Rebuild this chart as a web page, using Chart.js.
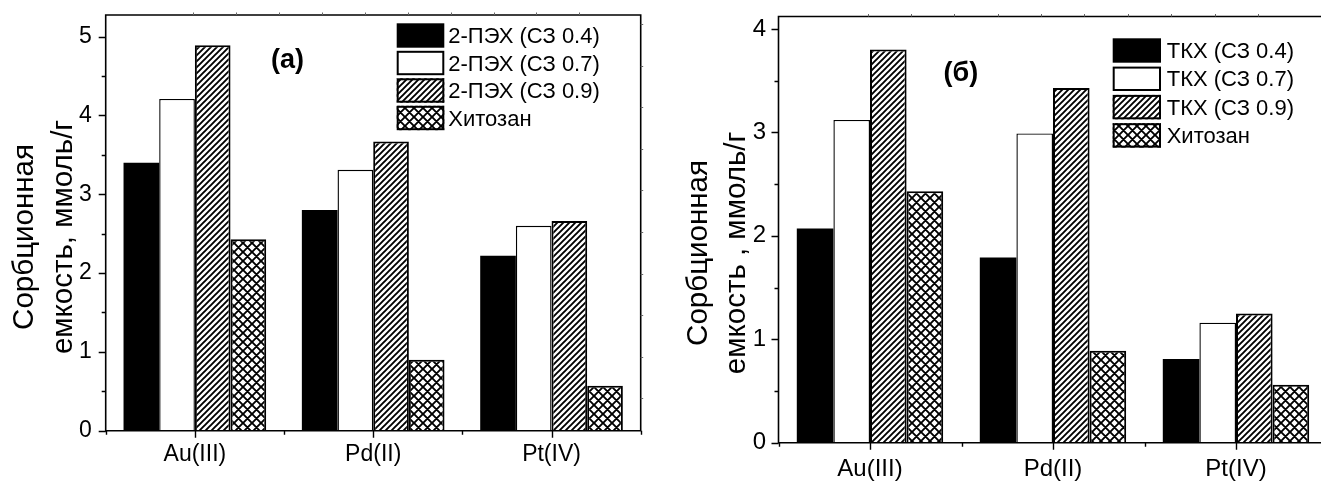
<!DOCTYPE html>
<html><head><meta charset="utf-8">
<script src="https://cdn.jsdelivr.net/npm/chart.js@4.4.1/dist/chart.umd.min.js"></script>
<style>
html,body{margin:0;padding:0;background:#fff;overflow:hidden;width:1321px;height:482px;}
#wrapA{position:absolute;left:0;top:0;width:660px;height:482px;}
#wrapB{position:absolute;left:660px;top:0;width:700px;height:482px;}
canvas{display:block;}
</style></head><body>
<div id="wrapA"><canvas id="cA" width="660" height="482"></canvas></div>
<div id="wrapB"><canvas id="cB" width="700" height="482"></canvas></div>
<script>
// ---- data ----
const categories = ['Au(III)', 'Pd(II)', 'Pt(IV)'];
const seriesLabelsA = ['2-ПЭХ (СЗ 0.4)', '2-ПЭХ (СЗ 0.7)', '2-ПЭХ (СЗ 0.9)', 'Хитозан'];
const seriesLabelsB = ['ТКХ (СЗ 0.4)', 'ТКХ (СЗ 0.7)', 'ТКХ (СЗ 0.9)', 'Хитозан'];
const a_ds04 = [3.40, 2.80, 2.22];
const a_ds07 = [4.21, 3.31, 2.60];
const a_ds09 = [4.89, 3.67, 2.66];
const a_chitosan = [2.43, 0.90, 0.57];
const b_ds04 = [2.07, 1.79, 0.81];
const b_ds07 = [3.12, 2.99, 1.16];
const b_ds09 = [3.80, 3.43, 1.25];
const b_chitosan = [2.43, 0.89, 0.56];
const yTicksA = [0, 1, 2, 3, 4, 5];
const yTicksB = [0, 1, 2, 3, 4];
const yMaxA = 5.275;
const yMaxB = 4.12;
const yTitleA = ['Сорбционная', 'емкость, ммоль/г'];
const yTitleB = ['Сорбционная', 'емкость , ммоль/г'];
const panelA = '(а)';
const panelB = '(б)';

const FONT = '"Liberation Sans", Arial, "DejaVu Sans", sans-serif';

function makeHatch() {
  const s = 6, c = document.createElement('canvas');
  c.width = s; c.height = s;
  const g = c.getContext('2d');
  g.fillStyle = '#fff'; g.fillRect(0, 0, s, s);
  g.strokeStyle = '#000'; g.lineWidth = 1.9; g.lineCap = 'square';
  g.beginPath();
  g.moveTo(-1, s + 1); g.lineTo(s + 1, -1);
  g.moveTo(-1, 1); g.lineTo(1, -1);
  g.moveTo(s - 1, s + 1); g.lineTo(s + 1, s - 1);
  g.stroke();
  return g.createPattern(c, 'repeat');
}
function makeCross() {
  const s = 9, c = document.createElement('canvas');
  c.width = s; c.height = s;
  const g = c.getContext('2d');
  g.fillStyle = '#fff'; g.fillRect(0, 0, s, s);
  g.strokeStyle = '#000'; g.lineWidth = 1.9;
  g.beginPath();
  g.moveTo(-1, s + 1); g.lineTo(s + 1, -1);
  g.moveTo(-1, 1); g.lineTo(1, -1);
  g.moveTo(s - 1, s + 1); g.lineTo(s + 1, s - 1);
  g.moveTo(-1, -1); g.lineTo(s + 1, s + 1);
  g.moveTo(s - 1, -1); g.lineTo(s + 1, 1);
  g.moveTo(-1, s - 1); g.lineTo(1, s + 1);
  g.stroke();
  return g.createPattern(c, 'repeat');
}
const hatch = makeHatch();
const cross = makeCross();

function datasets(labels, d0, d1, d2, d3) {
  const common = { xAxisID: 'x', yAxisID: 'y', borderColor: '#000', categoryPercentage: 0.8, barPercentage: 1.0 };
  return [
    Object.assign({ label: labels[0], data: d0, backgroundColor: '#000', borderWidth: 0, legendBorder: 0 }, common),
    Object.assign({ label: labels[1], data: d1, backgroundColor: '#fff', borderWidth: 1.4, legendBorder: 2 }, common),
    Object.assign({ label: labels[2], data: d2, backgroundColor: hatch, borderWidth: 2, legendBorder: 2 }, common),
    Object.assign({ label: labels[3], data: d3, backgroundColor: cross, borderWidth: 2, legendBorder: 2 }, common)
  ];
}

const decorPlugin = {
  id: 'decor',
  afterDraw(chart, args, o) {
    const ctx = chart.ctx, ca = chart.chartArea;
    const x = chart.scales.x, y = chart.scales.y;
    const xt = chart.scales.xTop, yr = chart.scales.yRight;
    ctx.save();
    ctx.strokeStyle = '#000';
    // frame
    ctx.lineWidth = 1.6;
    ctx.beginPath();
    ctx.moveTo(ca.left, ca.top); ctx.lineTo(ca.right, ca.top);
    ctx.lineTo(ca.right, ca.bottom); ctx.lineTo(ca.left, ca.bottom); ctx.closePath();
    ctx.stroke();
    // left axis ticks
    ctx.lineWidth = 1.4;
    ctx.beginPath();
    for (let v = 0; v <= y.max + 1e-9; v += 0.5) {
      const py = Math.round(y.getPixelForValue(v)) + 0.5;
      const len = Math.abs(v - Math.round(v)) < 1e-9 ? 7 : 4;
      ctx.moveTo(ca.left, py); ctx.lineTo(ca.left - len, py);
    }
    // bottom axis ticks
    const n = chart.data.labels.length;
    for (let i = 0; i < n; i++) {
      const px = Math.round(x.getPixelForValue(i)) + 0.5;
      ctx.moveTo(px, ca.bottom); ctx.lineTo(px, ca.bottom + 7);
    }
    for (let i = -0.5; i <= n - 0.5 + 1e-9; i += 1) {
      const px = Math.round(x.getPixelForValue(i)) + 0.5;
      ctx.moveTo(px, ca.bottom); ctx.lineTo(px, ca.bottom + 4);
    }
    ctx.stroke();
    // tiny mirror ticks (top & right)
    ctx.strokeStyle = '#666'; ctx.lineWidth = 1;
    ctx.beginPath();
    if (xt) {
      for (let k = 1; k < xt.max; k++) {
        const px = Math.round(xt.getPixelForValue(k)) + 0.5;
        ctx.moveTo(px, ca.top); ctx.lineTo(px, ca.top - 2.5);
      }
    }
    if (yr && o.rightTicks) {
      for (let k = Math.ceil(yr.min); k < yr.max; k++) {
        const py = Math.round(yr.getPixelForValue(k)) + 0.5;
        ctx.moveTo(ca.right, py); ctx.lineTo(ca.right + 2.5, py);
      }
    }
    ctx.stroke();

    // y title (two lines, rotated)
    ctx.fillStyle = '#000';
    ctx.font = o.titleSize + 'px ' + FONT;
    ctx.textAlign = 'center'; ctx.textBaseline = 'alphabetic';
    o.title.forEach((line, i) => {
      ctx.save();
      ctx.translate(o.titleX[i], o.titleCY);
      ctx.rotate(-Math.PI / 2);
      ctx.fillText(line, 0, 0);
      ctx.restore();
    });

    // panel label
    ctx.font = 'bold ' + o.panelSize + 'px ' + FONT;
    ctx.fillText(o.panel, x.getPixelForValue(o.panelX), y.getPixelForValue(o.panelY));

    // legend
    const L = o.legend;
    ctx.font = L.size + 'px ' + FONT;
    ctx.textAlign = 'left'; ctx.textBaseline = 'middle';
    chart.data.datasets.forEach((ds, i) => {
      const lx = ca.left + L.left, ly = ca.top + L.top + i * L.pitch;
      ctx.fillStyle = ds.backgroundColor;
      ctx.fillRect(lx, ly, L.w, L.h);
      if (ds.legendBorder) {
        ctx.strokeStyle = '#000'; ctx.lineWidth = ds.legendBorder;
        ctx.strokeRect(lx + 1, ly + 1, L.w - 2, L.h - 2);
      }
      ctx.fillStyle = '#000';
      ctx.fillText(ds.label, lx + L.w + L.gap, ly + L.h / 2 + 1.5);
    });
    ctx.restore();
  }
};

function zeroMargins(s) {
  s.paddingTop = 0; s.paddingBottom = 0; s.paddingLeft = 0; s.paddingRight = 0;
  s._margins = { left: 0, right: 0, top: 0, bottom: 0 };
}

function makeChart(id, labels, dsets, yTicks, yMax, cfg) {
  return new Chart(document.getElementById(id), {
    type: 'bar',
    data: { labels: categories, datasets: dsets },
    plugins: [decorPlugin],
    options: {
      responsive: false,
      animation: false,
      layout: { padding: cfg.padding, autoPadding: false },
      plugins: { legend: { display: false }, tooltip: { enabled: false }, decor: cfg.decor },
      scales: {
        x: {
          type: 'category', offset: true,
          grid: { display: false, drawTicks: false }, border: { display: false },
          ticks: { color: '#000', padding: cfg.xPad, font: { family: FONT, size: cfg.xSize }, maxRotation: 0 },
          afterFit: s => { s.height = cfg.xHeight; zeroMargins(s); }
        },
        y: {
          type: 'linear', min: 0, max: yMax,
          grid: { display: false, drawTicks: false }, border: { display: false },
          ticks: { color: '#000', padding: cfg.yPad, font: { family: FONT, size: cfg.ySize } },
          afterBuildTicks: s => { s.ticks = yTicks.map(v => ({ value: v })); },
          afterFit: s => { s.width = cfg.yWidth; zeroMargins(s); }
        },
        xTop: { type: 'linear', axis: 'x', position: 'top', display: false, min: 0, max: cfg.topMax },
        yRight: { type: 'linear', axis: 'y', position: 'right', display: false, min: cfg.right.min, max: cfg.right.max }
      }
    }
  });
}

makeChart('cA', seriesLabelsA, datasets(seriesLabelsA, a_ds04, a_ds07, a_ds09, a_chitosan), yTicksA, yMaxA, {
  padding: { left: 0, top: 15, right: 19.3, bottom: 0 },
  yWidth: 105.7, xHeight: 51.3, xPad: 10, xSize: 23, yPad: 14, ySize: 23,
  topMax: 10.39, right: { min: 0.2236, max: 10.216 },
  decor: {
    title: yTitleA, titleSize: 29.5, titleX: [33, 72], titleCY: 237, rightTicks: true,
    panel: panelA, panelSize: 27, panelX: 0.52, panelY: 4.6,
    legend: { left: 291, top: 8.3, w: 47.6, h: 24.4, pitch: 27.5, gap: 4, size: 22 }
  }
});

makeChart('cB', seriesLabelsB, datasets(seriesLabelsB, b_ds04, b_ds07, b_ds09, b_chitosan), yTicksB, yMaxB, {
  padding: { left: 0, top: 16.5, right: 32.5, bottom: 0 },
  yWidth: 118.5, xHeight: 39.3, xPad: 12, xSize: 24, yPad: 12.5, ySize: 24,
  topMax: 10.55, right: { min: 0, max: 10 },
  decor: {
    title: yTitleB, titleSize: 29.5, titleX: [47, 85], titleCY: 253, rightTicks: false,
    panel: panelB, panelSize: 27, panelX: 0.497, panelY: 3.5,
    legend: { left: 334.2, top: 21.8, w: 48.3, h: 24.4, pitch: 28.3, gap: 5.7, size: 22 }
  }
});
</script>
</body></html>
